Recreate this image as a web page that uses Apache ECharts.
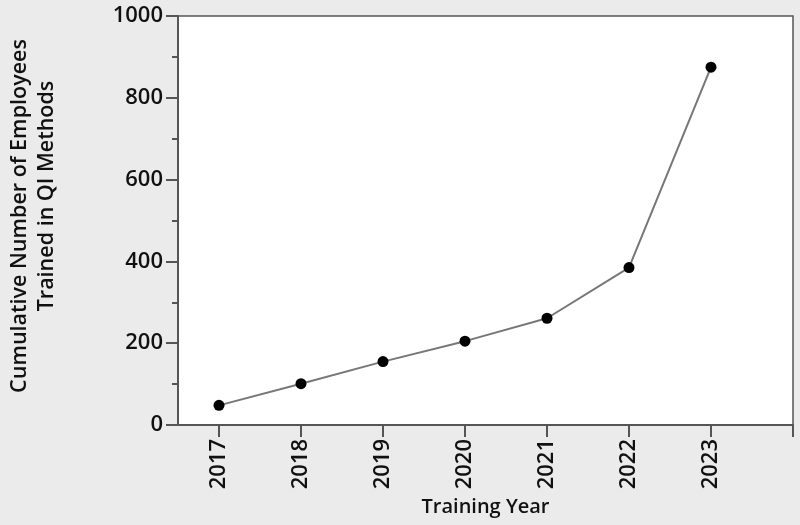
<!DOCTYPE html>
<html>
<head>
<meta charset="utf-8">
<script src="https://cdn.jsdelivr.net/npm/echarts@6/dist/echarts.min.js"></script>
<style>
  html, body { margin: 0; padding: 0; background: #ebebeb; }
  #chart { width: 800px; height: 525px; }
</style>
</head>
<body>
<div id="chart"></div>
<script>
// training years and cumulative employees trained
const years = [2017, 2018, 2019, 2020, 2021, 2022, 2023]
const trained = [48, 101, 155, 205, 261, 385, 875]
const xTicks = [2017, 2018, 2019, 2020, 2021, 2022, 2023, 2024]

const font = 'Open Sans'
const axisColor = '#555'

const chart = echarts.init(document.getElementById('chart'))

const option = {
  backgroundColor: '#ebebeb',
  animation: false,
  grid: {
    left: 178,
    right: 7,
    top: 16,
    bottom: 100,
    show: true,
    backgroundColor: '#fff',
    borderColor: axisColor,
    borderWidth: 1.5,
  },
  xAxis: {
    type: 'value',
    min: 2016.5,
    max: 2024,
    name: 'Training Year',
    nameLocation: 'middle',
    nameGap: 70,
    nameTextStyle: { fontFamily: font, fontSize: 20, fontWeight: 600, color: '#111' },
    axisLine: { lineStyle: { color: axisColor, width: 2 } },
    axisTick: {
      customValues: xTicks,
      length: 12,
      lineStyle: { color: axisColor, width: 2 },
    },
    axisLabel: {
      customValues: years,
      formatter: (v) => String(v),
      rotate: 90,
      margin: 14,
      fontFamily: font,
      fontSize: 22,
      fontWeight: 600,
      color: '#111',
    },
    splitLine: { show: false },
  },
  yAxis: {
    type: 'value',
    min: 0,
    max: 1000,
    interval: 200,
    axisLine: { show: true, lineStyle: { color: axisColor, width: 2 } },
    axisTick: { length: 12, lineStyle: { color: axisColor, width: 2 } },
    minorTick: {
      show: true,
      splitNumber: 2,
      length: 6,
      lineStyle: { color: axisColor, width: 2 },
    },
    axisLabel: {
      margin: 15,
      formatter: (v) => String(v),
      fontFamily: font,
      fontSize: 22,
      fontWeight: 600,
      color: '#111',
    },
    splitLine: { show: false },
  },
  graphic: [
    {
      type: 'text',
      x: 20,
      y: 216,
      rotation: Math.PI / 2,
      style: {
        text: 'Cumulative Number of Employees',
        font: '600 21.5px "Open Sans"',
        fill: '#111',
        align: 'center',
        verticalAlign: 'middle',
      },
    },
    {
      type: 'text',
      x: 47,
      y: 196,
      rotation: Math.PI / 2,
      style: {
        text: 'Trained in QI Methods',
        font: '600 21.5px "Open Sans"',
        fill: '#111',
        align: 'center',
        verticalAlign: 'middle',
      },
    },
  ],
  series: [
    {
      type: 'line',
      data: years.map((y, i) => [y, trained[i]]),
      symbol: 'circle',
      symbolSize: 11,
      itemStyle: { color: '#000' },
      lineStyle: { color: '#777', width: 2 },
    },
  ],
}

chart.setOption(option)
</script>
</body>
</html>
